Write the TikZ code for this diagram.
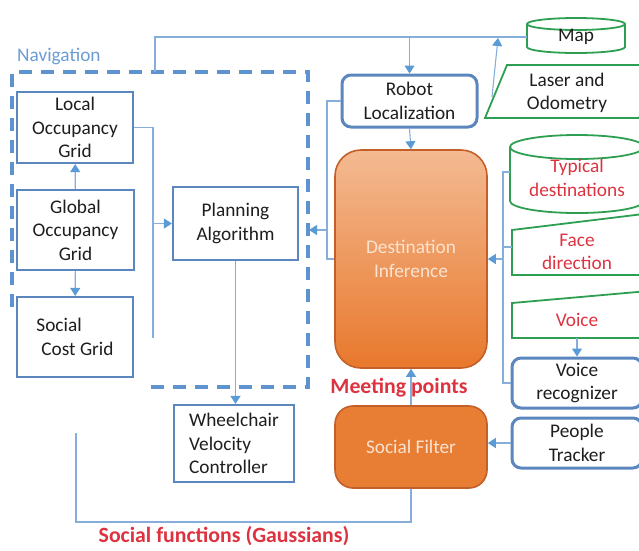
\documentclass[tikz,border=0pt]{standalone}
\usepackage{fontspec}
\setmainfont{Carlito}
\usetikzlibrary{arrows.meta}

\definecolor{boxblue}{HTML}{5B87BE}
\definecolor{lineblue}{HTML}{86AEDB}
\definecolor{tipblue}{HTML}{5B9BD5}
\definecolor{dashblue}{HTML}{5E93CF}
\definecolor{navblue}{HTML}{6C9DD2}
\definecolor{dbgreen}{HTML}{2E9F52}
\definecolor{labred}{HTML}{DD3340}
\definecolor{orangetop}{HTML}{F4BA92}
\definecolor{orangebot}{HTML}{E8782C}
\definecolor{orangefill}{HTML}{E87D34}
\definecolor{orangeedge}{HTML}{C3602A}
\definecolor{inktext}{HTML}{1E1E1E}
\definecolor{palefont}{HTML}{FBE3D2}

\begin{document}
\begin{tikzpicture}[x=1pt,y=-1pt,
    txt/.style={font=\fontsize{19.3}{23.5}\selectfont, text=inktext, align=center, inner sep=0pt},
    box/.style={txt, draw=boxblue, line width=2.2pt, fill=white},
    roundbox/.style={box, rounded corners=9pt, line width=3pt},
    orangebox/.style={txt, text=palefont, draw=orangeedge, line width=1.6pt},
    dbshape/.style={draw=dbgreen, line width=1.8pt},
    conn/.style={draw=lineblue, line width=1.1pt},
    arr/.style={conn, -{Triangle[width=10pt,length=8pt,color=tipblue]}},
    navframe/.style={draw=dashblue, line width=3.6pt, dash pattern=on 13pt off 9pt},
    redlabel/.style={font=\fontsize{21.8}{25}\selectfont\bfseries, text=labred, inner sep=0pt}]
    \useasboundingbox (0,0) rectangle (639,550);
    \clip (0,0) rectangle (639,550);

    % navigation block
    \draw[navframe] (12,307) -- (12,72) -- (308,72) -- (308,387) -- (145,387);
    \node[anchor=west, font=\fontsize{19.3}{22}\selectfont, text=navblue, inner sep=0pt] (navlabel) at (17,56) {Navigation};
    \node[box, minimum width=116, minimum height=71] (local) at (75,127.5) {Local\\Occupancy\\Grid};
    \node[box, minimum width=117, minimum height=80] (global) at (75.5,230) {Global\\Occupancy\\Grid};
    \node[box, minimum width=116, minimum height=80, align=left] (costgrid) at (75,337) {Social\\\hspace{5pt}Cost Grid};
    \node[box, minimum width=125, minimum height=73] (planning) at (235.5,223.5) {Planning\\Algorithm};
    \node[box, minimum width=120, minimum height=77, align=left] (wheelchair) at (234,443.5) {Wheelchair\\Velocity\\Controller};

    % localization and inference
    \node[roundbox, minimum width=135, minimum height=52] (robot) at (409.5,101) {Robot\\Localization};
    \node[orangebox, rounded corners=26pt, top color=orangetop, bottom color=orangebot, minimum width=152, minimum height=218] (inference) at (411,259) {Destination\\Inference};
    \node[orangebox, rounded corners=18pt, fill=orangefill, minimum width=152, minimum height=82] (filter) at (411,447) {Social Filter};
    \node[redlabel] (meeting) at (399,388) {Meeting points};
    \node[redlabel] (gaussians) at (224,536) {Social functions (Gaussians)};

    % inputs
    \draw[dbshape] (527,24) -- (527,47) arc[start angle=180, end angle=0, x radius=49, y radius=6] -- (625,24);
    \draw[dbshape] (576,24) ellipse[x radius=49, y radius=6];
    \node[txt, minimum width=98] (map) at (576,37) {Map};
    \draw[dbshape] (507,65) -- (661,65) -- (639,118) -- (485,118) -- cycle;
    \node[txt] (laser) at (567,93) {Laser and\\Odometry};
    \draw[dbshape] (510,147) -- (510,201) arc[start angle=180, end angle=0, x radius=67, y radius=12] -- (644,147);
    \draw[dbshape] (577,147) ellipse[x radius=67, y radius=12];
    \node[txt, text=labred, minimum width=134] (typical) at (577,178) {Typical\\destinations};
    \draw[dbshape] (512,230) -- (660,212) -- (660,275) -- (512,275) -- cycle;
    \node[txt, text=labred, minimum width=130] (face) at (577,252) {Face\\direction};
    \draw[dbshape] (512,303) -- (660,290) -- (660,338) -- (512,338) -- cycle;
    \node[txt, text=labred, minimum width=130] (voice) at (577,320) {Voice};
    \node[roundbox, minimum width=130, minimum height=50] (recognizer) at (577,383) {Voice\\recognizer};
    \node[roundbox, minimum width=130, minimum height=50] (tracker) at (577,443) {People\\Tracker};

    % free ends
    \coordinate (navtop) at (155,72);
    \coordinate (navright) at (309,230);
    \coordinate (laserin) at (492,97);
    \coordinate (gaussend) at (76,433);

    % connectors
    \draw[arr] (global) -- (local);
    \draw[arr] (global) -- (costgrid);
    \draw[conn] (local.east) -- (153,127.5) -- (153,338);
    \draw[arr] (153,223.5) -- (planning.west);
    \draw[arr] (planning.south) -- (planning.south |- wheelchair.north);
    \draw[conn] (navtop) |- (map.west);
    \draw[arr] (robot.north |- map.west) -- (robot.north);
    \draw[arr] (laserin) -- (498,38);
    \draw[arr] (robot.south) -- (inference.north);
    \draw[conn] (robot.west) -- (327,101) -- (327,259) -- (inference.west);
    \draw[arr] (327,230) -- (navright);
    \draw[conn] ([yshift=6pt]typical.west) -- (503,172) -- (503,383) -- (recognizer.west);
    \draw[conn] (503,247) -- ([yshift=5pt]face.west);
    \draw[arr] (503,259) -- (inference.east);
    \draw[arr] (voice.south |- 512,338) -- (recognizer.north);
    \draw[arr] (tracker.west) -- (filter.east |- tracker.west);
    \draw[arr] (filter.north) -- (inference.south);
    \draw[conn] (filter.south) -- (411,522) -- (76,522) -- (gaussend);
\end{tikzpicture}
\end{document}
